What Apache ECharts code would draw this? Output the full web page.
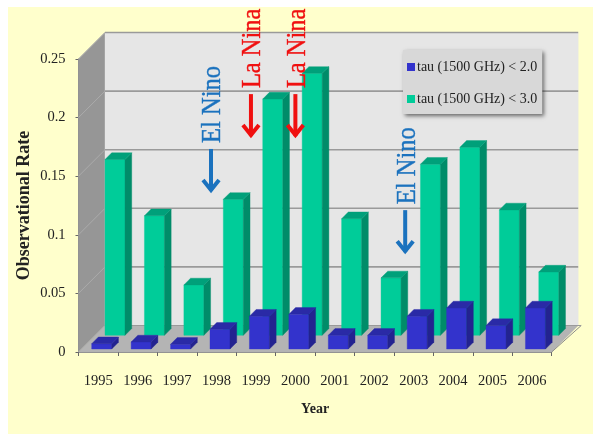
<!DOCTYPE html>
<html>
<head>
<meta charset="utf-8">
<style>
html,body{margin:0;padding:0;background:#fff;width:595px;height:434px;overflow:hidden}
#paper{position:absolute;left:8px;top:7px;width:585px;height:427px;background:#FFFFCC}
#chart{position:absolute;left:0;top:0;width:595px;height:434px;filter:blur(0.45px)}
</style>
<script src="https://cdn.jsdelivr.net/npm/echarts@6/dist/echarts.min.js"></script>
</head>
<body>
<div id="paper"></div>
<div id="chart"></div>
<script>
const years = ['1995','1996','1997','1998','1999','2000','2001','2002','2003','2004','2005','2006'];
const tauUnder2 = [0.0045,0.006,0.004,0.0168,0.028,0.0296,0.0117,0.0117,0.028,0.035,0.02,0.035];
const tauUnder3 = [0.150,0.102,0.043,0.116,0.2016,0.2235,0.0995,0.049,0.146,0.1604,0.107,0.054];
const yTicks = [0,0.05,0.1,0.15,0.2,0.25];
const eventYears = ['1998','1999','2000','2003'];
const eventNames = ['El Nino','La Nina','La Nina','El Nino'];
const eventArrowTips = [0.1357,0.1825,0.1825,0.0835];

const SERIF = '"Liberation Serif","Times New Roman",serif';
const DEPTH = 26.5;
const eventColors = {'El Nino':'#1B72BE','La Nina':'#F01010'};
const eventNudge = [-5.5,-5,0,-8.5];

const chart = echarts.init(document.getElementById('chart'), null, {renderer:'canvas'});

function poly(points, fill, z2){
  return {type:'polygon', shape:{points}, style:{fill, stroke:fill, lineWidth:0.4}, z2:z2||0};
}
function line(x1,y1,x2,y2,stroke,w){
  return {type:'line', shape:{x1,y1,x2,y2}, style:{stroke, lineWidth:w}};
}
function wallsItem(params, api){
  const cs = params.coordSys;
  const l = cs.x, r = cs.x + cs.width, b = cs.y + cs.height, t = cs.y;
  const d = DEPTH;
  const kids = [
    poly([[l,b],[l,t],[l+d,t-d],[l+d,b-d]], '#969696'),
    poly([[l+d,t-d],[r+d,t-d],[r+d,b-d],[l+d,b-d]], '#E6E6E6'),
    poly([[l,b],[r,b],[r+d,b-d],[l+d,b-d]], '#B4B4B4')
  ];
  yTicks.forEach(v=>{
    const y = api.coord([0,v])[1];
    if(v>0) kids.push(line(l,y,l+d,y-d,'#ABABAB',1));
    if(v>0) kids.push(line(l+d,y-d,r+d,y-d,'#9A9A9A',1.6));
  });
  kids.push(line(r,b,r+d+3,b-d,'#8C8C8C',1));
  kids.push(line(l+d,b-d,r+d+3,b-d,'#9A9A9A',1));
  kids.push(line(l,b,l+d,b-d,'#A8A8A8',1));
  return {type:'group', children:kids};
}
function barRenderer(shiftX, shiftY, front, side, top){
  return function(params, api){
    const p = api.coord([api.value(0), api.value(1)]);
    const o = api.coord([api.value(0), 0]);
    const w = 20, s = 6.7;
    const x0 = p[0] + shiftX - w/2, x1 = x0 + w;
    const yt = p[1] + shiftY, yb = o[1] + shiftY;
    return {type:'group', children:[
      poly([[x0,yb],[x1,yb],[x1,yt],[x0,yt]], front),
      poly([[x1,yb],[x1+s,yb-s],[x1+s,yt-s],[x1,yt]], side),
      poly([[x0,yt],[x1,yt],[x1+s,yt-s],[x0+s,yt-s]], top)
    ]};
  };
}
function eventItem(params, api){
  const i = params.dataIndex;
  const tip = api.coord([api.value(0), api.value(1)]);
  const name = eventNames[i], color = eventColors[name];
  const x = tip[0] + eventNudge[i], y = tip[1];
  const len = 44;
  return {type:'group', children:[
    {type:'polyline', shape:{points:[[x,y-2],[x,y-len]]}, style:{stroke:color,lineWidth:4,fill:null}},
    {type:'polyline', shape:{points:[[x-8,y-13],[x,y-3],[x+8,y-13]]}, style:{stroke:color,lineWidth:4,fill:null}},
    {type:'text', x:x+2, y:y-len-6, rotation:Math.PI/2, scaleY:1.15,
     style:{text:name, x:0, y:0, fill:color, font:'24.5px '+SERIF, align:'left', verticalAlign:'middle',
            stroke:color, lineWidth:0.35,
            shadowColor:'rgba(60,60,60,0.45)', shadowBlur:1.5, shadowOffsetX:1.5, shadowOffsetY:0.5}}
  ]};
}

chart.setOption({
  animation:false,
  backgroundColor:'transparent',
  grid:{left:78.5, right:43.3, top:59, bottom:82},
  legend:{
    orient:'vertical', left:403, top:50, icon:'rect', itemWidth:8, itemHeight:8, itemGap:18,
    padding:[10,5,8,4],
    data:['tau (1500 GHz) < 2.0','tau (1500 GHz) < 3.0'],
    backgroundColor:'#D8D8D8', shadowColor:'rgba(0,0,0,0.55)', shadowBlur:4, shadowOffsetX:2, shadowOffsetY:2,
    textStyle:{fontFamily:SERIF, fontSize:14, color:'#222', padding:[0,0,0,-3]}
  },
  xAxis:{
    type:'category', data:years, boundaryGap:true,
    name:'Year', nameLocation:'middle', nameGap:50, nameMoveOverlap:false,
    nameTextStyle:{fontFamily:SERIF, fontSize:14, fontWeight:'bold', color:'#222'},
    axisLine:{lineStyle:{color:'#8C8C8C', width:1}},
    axisTick:{show:true, length:4, lineStyle:{color:'#666'}},
    axisLabel:{fontFamily:SERIF, fontSize:14.5, color:'#222', margin:22, interval:0},
    splitLine:{show:false}
  },
  yAxis:{
    type:'value', min:0, max:0.25, interval:0.05,
    name:'Observational Rate', nameLocation:'middle', nameGap:45, nameRotate:90, nameMoveOverlap:false,
    nameTextStyle:{fontFamily:SERIF, fontSize:18, fontWeight:'bold', color:'#222'},
    axisLine:{show:true, lineStyle:{color:'#8C8C8C', width:1}},
    axisTick:{show:true, length:3, lineStyle:{color:'#666'}},
    axisLabel:{fontFamily:SERIF, fontSize:14.5, color:'#222', margin:13},
    splitLine:{show:false}
  },
  series:[
    {type:'custom', name:'walls', silent:true, z:1, renderItem:wallsItem, data:[[0,0]], encode:{x:0,y:1}},
    {type:'custom', name:'tau (1500 GHz) < 3.0', z:3, itemStyle:{color:'#00CC99'},
     renderItem:barRenderer(16.8,-16.7,'#00CC99','#008C69','#00A07A'),
     data:years.map((y,i)=>[i,tauUnder3[i]]), encode:{x:0,y:1}},
    {type:'custom', name:'tau (1500 GHz) < 2.0', z:4, itemStyle:{color:'#3333CC'},
     renderItem:barRenderer(3.5,-3,'#3333CC','#232390','#2A2AA6'),
     data:years.map((y,i)=>[i,tauUnder2[i]]), encode:{x:0,y:1}},
    {type:'custom', name:'events', silent:true, z:6, renderItem:eventItem,
     data:eventYears.map((y,i)=>[years.indexOf(y),eventArrowTips[i]]), encode:{x:0,y:1}}
  ]
});
</script>
</body>
</html>
